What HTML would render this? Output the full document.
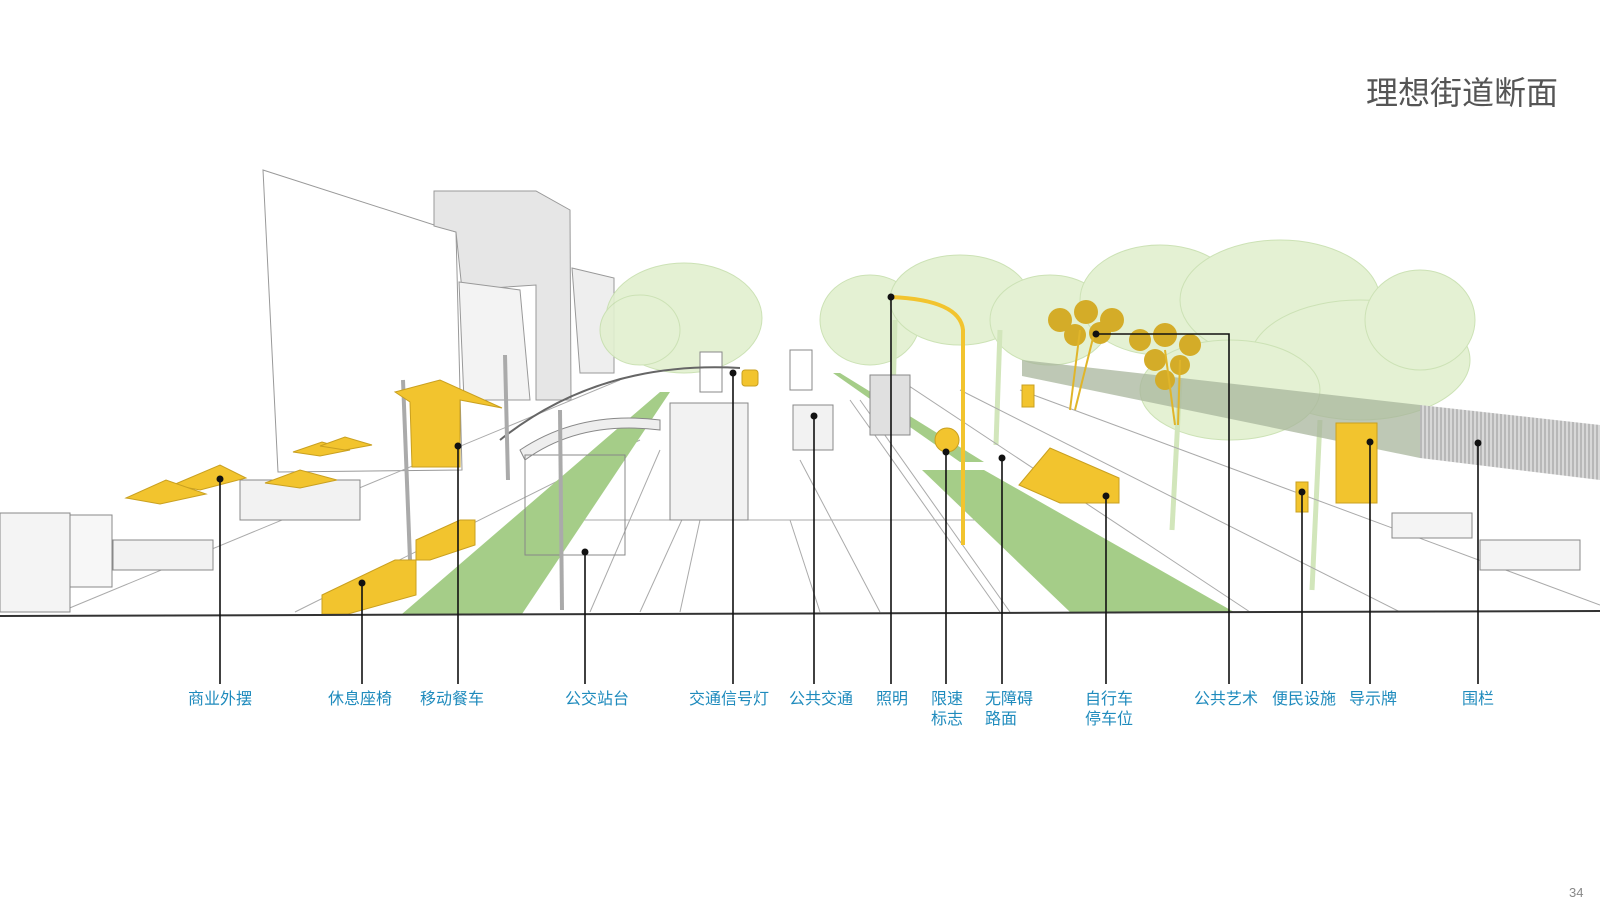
<!DOCTYPE html>
<html><head><meta charset="utf-8">
<style>
html,body{margin:0;padding:0;background:#fff;}
body{width:1600px;height:913px;position:relative;overflow:hidden;font-family:"Liberation Sans","Noto Sans CJK SC",sans-serif;}
.t{position:absolute;top:68px;left:1366px;font-size:32px;color:#555;letter-spacing:0px;white-space:nowrap;}
.pg{position:absolute;left:1569px;top:885px;font-size:13px;color:#888;}
.lb{position:absolute;top:690px;font-size:16px;line-height:20px;color:#1f8bbd;text-align:center;white-space:nowrap;transform:translateX(-50%);}
.ll{position:absolute;top:690px;font-size:16px;line-height:20px;color:#1f8bbd;text-align:left;white-space:nowrap;}
svg{position:absolute;left:0;top:0;}
</style></head><body>
<svg width="1600" height="913" viewBox="0 0 1600 913">
<defs>
<pattern id="hatch" width="4" height="10" patternUnits="userSpaceOnUse"><rect width="4" height="10" fill="#d8d8d8"/><line x1="1" y1="0" x2="1" y2="10" stroke="#999" stroke-width="1"/></pattern>
</defs>
<g stroke="#999" stroke-width="1" fill="none">
 <polygon points="263,170 456,232 462,470 278,472" fill="#fff"/>
 <polygon points="434,191 536,191 570,210 571,400 536,400 536,285 462,290 456,232 434,226" fill="#e6e6e6"/>
 <polygon points="459,282 520,290 530,400 464,400" fill="#f3f3f3"/>
 <polygon points="572,268 614,278 614,373 580,373" fill="#eeeeee"/>
</g>
<!-- trees -->
<g fill="#e2f0cf" opacity="0.9" stroke="#c7dfae" stroke-width="1">
 <ellipse cx="684" cy="318" rx="78" ry="55"/>
 <ellipse cx="640" cy="330" rx="40" ry="35"/>
 <ellipse cx="870" cy="320" rx="50" ry="45"/>
 <ellipse cx="960" cy="300" rx="70" ry="45"/>
 <ellipse cx="1050" cy="320" rx="60" ry="45"/>
 <ellipse cx="1160" cy="300" rx="80" ry="55"/>
 <ellipse cx="1280" cy="300" rx="100" ry="60"/>
 <ellipse cx="1360" cy="360" rx="110" ry="60"/>
 <ellipse cx="1230" cy="390" rx="90" ry="50"/>
 <ellipse cx="1420" cy="320" rx="55" ry="50"/>
</g>
<g stroke="#d2e6bb" stroke-width="5">
 <line x1="1180" y1="380" x2="1172" y2="530"/><line x1="1320" y1="420" x2="1312" y2="590"/>
 <line x1="1000" y1="330" x2="996" y2="445"/><line x1="895" y1="320" x2="893" y2="400"/>
</g>
<!-- fence band -->
<polygon points="1022,360 1420,405 1420,458 1022,376" fill="#a8b59c" opacity="0.75"/>
<polygon points="1420,405 1600,425 1600,480 1420,458" fill="url(#hatch)"/>
<!-- ground lines -->
<g stroke="#aaa" fill="none" stroke-width="1">
 <line x1="60" y1="612" x2="620" y2="380"/>
 <line x1="295" y1="612" x2="640" y2="440"/>
 <line x1="590" y1="612" x2="660" y2="450"/>
 <line x1="640" y1="612" x2="700" y2="480"/>
 <line x1="680" y1="612" x2="700" y2="520"/>
 <line x1="820" y1="612" x2="790" y2="520"/>
 <line x1="880" y1="612" x2="800" y2="460"/>
 <line x1="1000" y1="612" x2="850" y2="400"/>
 <line x1="1010" y1="612" x2="860" y2="400"/>
 <line x1="1250" y1="612" x2="900" y2="380"/>
 <line x1="1400" y1="612" x2="960" y2="390"/>
 <line x1="1600" y1="605" x2="1020" y2="390"/>
 <line x1="575" y1="520" x2="1040" y2="520"/>
</g>
<polygon points="402,614 522,614 670,392 660,392" fill="#a5cd88"/>
<polygon points="922,470 984,470 1234,612 1070,612" fill="#a5cd88"/>
<polygon points="833,373 840,373 984,462 960,462" fill="#a5cd88"/>
<g stroke="#888" fill="#fff" stroke-width="1">
 <rect x="0" y="513" width="70" height="99" fill="#f4f4f4"/>
 <rect x="70" y="515" width="42" height="72" fill="#f7f7f7"/>
 <rect x="113" y="540" width="100" height="30" fill="#f2f2f2"/>
 <rect x="240" y="480" width="120" height="40" fill="#f2f2f2"/>
 <rect x="670" y="403" width="78" height="117" fill="#f2f2f2"/>
 <rect x="793" y="405" width="40" height="45" fill="#f2f2f2"/>
 <rect x="790" y="350" width="22" height="40"/>
 <rect x="700" y="352" width="22" height="40"/>
 <path d="M520,450 Q580,410 660,420 L660,430 Q580,420 525,460Z" fill="#eee"/>
 <rect x="525" y="455" width="100" height="100" fill="none"/>
 <rect x="870" y="375" width="40" height="60" fill="#e0e0e0"/>
 <rect x="1392" y="513" width="80" height="25" fill="#f4f4f4"/>
 <rect x="1480" y="540" width="100" height="30" fill="#f4f4f4"/>
</g>
<path d="M500,440 Q600,360 740,368" stroke="#666" stroke-width="2" fill="none"/>
<g stroke="#aaa" stroke-width="4"><line x1="403" y1="380" x2="410" y2="560"/><line x1="505" y1="355" x2="508" y2="480"/><line x1="560" y1="410" x2="562" y2="610"/></g>
<g fill="#f2c42e" stroke="#c9a020" stroke-width="1">
 <polygon points="173,485 220,465 246,478 200,490"/>
 <polygon points="126,498 166,480 206,494 160,504"/>
 <polygon points="265,483 300,470 337,480 300,488"/>
 <polygon points="293,452 322,442 350,450 320,456"/>
 <polygon points="320,446 345,437 372,445 345,450"/>
 <polygon points="395,392 440,380 502,408 460,400 460,467 412,467 410,402"/>
 <polygon points="322,595 395,560 416,560 416,595 348,614 322,614"/>
 <polygon points="416,540 460,520 475,520 475,545 430,560 416,560"/>
 <rect x="742" y="370" width="16" height="16" rx="3"/>
 <polygon points="1019,485 1050,448 1119,478 1119,503 1060,503"/>
 <rect x="1336" y="423" width="41" height="80"/>
 <rect x="1022" y="385" width="12" height="22"/>
 <rect x="1296" y="482" width="12" height="30"/>
 <circle cx="947" cy="440" r="12"/>
</g>
<path d="M891,297 Q960,300 963,330 L963,545" stroke="#f2c42e" stroke-width="4" fill="none"/>
<g fill="#d4ac28">
 <circle cx="1060" cy="320" r="12"/><circle cx="1086" cy="312" r="12"/><circle cx="1112" cy="320" r="12"/><circle cx="1075" cy="335" r="11"/><circle cx="1100" cy="333" r="11"/>
 <circle cx="1140" cy="340" r="11"/><circle cx="1165" cy="335" r="12"/><circle cx="1190" cy="345" r="11"/><circle cx="1155" cy="360" r="11"/><circle cx="1180" cy="365" r="10"/><circle cx="1165" cy="380" r="10"/>
</g>
<g stroke="#e0b52a" stroke-width="2"><line x1="1080" y1="330" x2="1070" y2="410"/><line x1="1095" y1="330" x2="1075" y2="410"/><line x1="1165" y1="350" x2="1175" y2="425"/><line x1="1180" y1="360" x2="1178" y2="425"/></g>
<line x1="0" y1="616" x2="1600" y2="611" stroke="#333" stroke-width="2"/>
<g stroke="#111" stroke-width="1.6">
 <line x1="220" y1="479" x2="220" y2="684"/>
 <line x1="362" y1="583" x2="362" y2="684"/>
 <line x1="458" y1="446" x2="458" y2="684"/>
 <line x1="585" y1="552" x2="585" y2="684"/>
 <line x1="733" y1="373" x2="733" y2="684"/>
 <line x1="814" y1="416" x2="814" y2="684"/>
 <line x1="891" y1="297" x2="891" y2="684"/>
 <line x1="946" y1="452" x2="946" y2="684"/>
 <line x1="1002" y1="458" x2="1002" y2="684"/>
 <line x1="1106" y1="496" x2="1106" y2="684"/>
 <polyline points="1096,334 1229,334 1229,684" fill="none"/>
 <line x1="1302" y1="492" x2="1302" y2="684"/>
 <line x1="1370" y1="442" x2="1370" y2="684"/>
 <line x1="1478" y1="443" x2="1478" y2="684"/>
</g>
<g fill="#111">
 <circle cx="220" cy="479" r="3.5"/><circle cx="362" cy="583" r="3.5"/><circle cx="458" cy="446" r="3.5"/><circle cx="585" cy="552" r="3.5"/><circle cx="733" cy="373" r="3.5"/><circle cx="814" cy="416" r="3.5"/><circle cx="891" cy="297" r="3.5"/><circle cx="946" cy="452" r="3.5"/><circle cx="1002" cy="458" r="3.5"/><circle cx="1106" cy="496" r="3.5"/><circle cx="1096" cy="334" r="3.5"/><circle cx="1302" cy="492" r="3.5"/><circle cx="1370" cy="442" r="3.5"/><circle cx="1478" cy="443" r="3.5"/>
</g>
</svg>
<div class="t">理想街道断面</div>
<div class="lb" style="left:220px">商业外摆</div>
<div class="lb" style="left:360px">休息座椅</div>
<div class="lb" style="left:452px">移动餐车</div>
<div class="lb" style="left:597px">公交站台</div>
<div class="lb" style="left:729px">交通信号灯</div>
<div class="lb" style="left:821px">公共交通</div>
<div class="lb" style="left:892px">照明</div>
<div class="lb" style="left:947px">限速<br>标志</div>
<div class="ll" style="left:985px">无障碍<br>路面</div>
<div class="lb" style="left:1109px">自行车<br>停车位</div>
<div class="lb" style="left:1226px">公共艺术</div>
<div class="lb" style="left:1304px">便民设施</div>
<div class="lb" style="left:1373px">导示牌</div>
<div class="lb" style="left:1478px">围栏</div>
<div class="pg">34</div>
</body></html>
